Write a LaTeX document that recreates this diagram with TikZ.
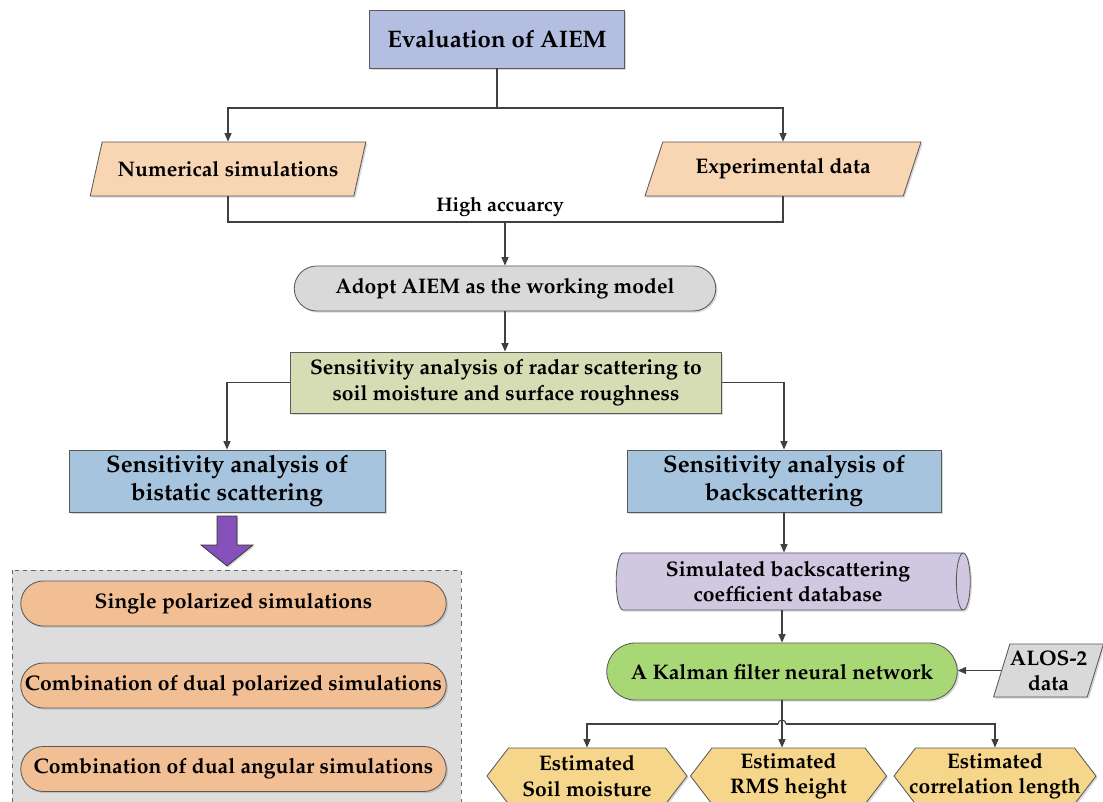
\documentclass[tikz,border=0pt]{standalone}
\usepackage[T1]{fontenc}
\usepackage{mathpazo}
\usetikzlibrary{arrows.meta,shapes.geometric,shapes.misc,shapes.symbols,shadows,patterns}

\definecolor{evalblue}{RGB}{180,190,225}
\definecolor{peach}{RGB}{248,214,180}
\definecolor{lightgray}{RGB}{217,217,217}
\definecolor{olive}{RGB}{214,220,180}
\definecolor{steel}{RGB}{166,196,222}
\definecolor{panel}{RGB}{221,221,221}
\definecolor{orangepill}{RGB}{242,190,148}
\definecolor{lilac}{RGB}{208,200,224}
\definecolor{leaf}{RGB}{168,216,118}
\definecolor{sand}{RGB}{245,214,138}
\definecolor{bigarrow}{RGB}{140,78,200}
\definecolor{linegray}{RGB}{64,64,64}

\tikzset{
  base/.style={draw=black!65, line width=0.6pt, align=center, inner sep=2pt,
    font=\fontsize{15}{18}\selectfont\bfseries,
    drop shadow={shadow xshift=1.2pt, shadow yshift=-1.2pt, opacity=0.3}},
  bigtext/.style={font=\fontsize{17}{20.5}\selectfont\bfseries},
  box/.style={base, rectangle},
  pill/.style={base, rounded rectangle},
  slant/.style={base, trapezium, trapezium left angle=63, trapezium right angle=117,
    trapezium stretches=true},
  hexa/.style={base, signal, signal to=west and east, signal pointer angle=105},
  drum/.style={base, cylinder, aspect=0.3},
  conn/.style={draw=linegray, line width=0.8pt},
  arr/.style={conn, -{Triangle[length=6pt, width=5pt]}},
}

\begin{document}
\begin{tikzpicture}[x=0.025cm, y=-0.025cm]
  \useasboundingbox (0,0) rectangle (1103,801);

  % top part
  \node[box, fill=evalblue, minimum width=6.375cm, minimum height=1.45cm,
    font=\fontsize{17}{20}\selectfont\bfseries] (eval) at (497,39) {Evaluation of AIEM};
  \node[slant, fill=peach, minimum width=6.9cm, minimum height=1.35cm] (num) at (228,169) {Numerical simulations};
  \node[slant, fill=peach, minimum width=6.9cm, minimum height=1.35cm] (exp) at (783,169) {Experimental data};
  \node[pill, fill=lightgray, minimum width=10.675cm, minimum height=1.125cm] (adopt) at (505,288.5) {Adopt AIEM as the working model};
  \node[box, fill=olive, minimum width=10.775cm, minimum height=1.525cm] (sens) at (506,382.5)
    {Sensitivity analysis of radar scattering to\\soil moisture and surface roughness};
  \node[box, bigtext, fill=steel, minimum width=7.9cm, minimum height=1.55cm] (bist) at (227,481)
    {Sensitivity analysis of\\bistatic scattering};
  \node[box, bigtext, fill=steel, minimum width=7.85cm, minimum height=1.55cm] (back) at (784,481)
    {Sensitivity analysis of\\backscattering};

  \coordinate (split) at (497,108);
  \coordinate (merge) at (505,222);
  \draw[conn] (eval.south) -- (split);
  \draw[arr] (split) -| (num.north);
  \draw[arr] (split) -| (exp.north);
  \draw[conn] (num.south) |- (merge) -| (exp.south);
  \node[font=\fontsize{14}{17}\selectfont\bfseries, above] (acc) at (500,222) {High accuarcy};
  \draw[arr] (merge) -- (adopt.north);
  \draw[arr] (adopt.south) -- (adopt.south |- sens.north);
  \draw[arr] (sens.west) -| (bist.north);
  \draw[arr] (sens.east) -| (back.north);

  % left branch
  \draw[black!80, line width=0.5pt, preaction={fill=bigarrow, drop shadow={shadow xshift=1pt, shadow yshift=-1pt, opacity=0.3}},
    pattern=crosshatch dots, pattern color=black!60]
    (217,516) -- (237,516) -- (237,545) -- (253,545) -- (227,566) -- (201,545) -- (217,545) -- cycle;
  \draw[black!60, dashed, line width=0.6pt, fill=panel] (12,570) rectangle (461,812);
  \node[pill, fill=orangepill, minimum width=10.775cm, minimum height=1.125cm] (single) at (233.5,603.5) {Single polarized simulations};
  \node[pill, fill=orangepill, minimum width=10.775cm, minimum height=1.125cm] (dualpol) at (233.5,685.5) {Combination of dual polarized simulations};
  \node[pill, fill=orangepill, minimum width=10.775cm, minimum height=1.125cm] (dualang) at (233.5,769) {Combination of dual angular simulations};

  % right branch
  \node[drum, fill=lilac, minimum height=8.85cm, minimum width=1.425cm] (db) at (788,581.5)
    {Simulated backscattering\\coefficient database};
  \node[pill, fill=leaf, minimum width=8.9cm, minimum height=1.425cm] (kal) at (782,671.5) {A Kalman filter neural network};
  \node[slant, fill=lightgray, trapezium left angle=68, trapezium right angle=112,
    minimum width=2.5cm, minimum height=1.325cm, inner sep=0pt] (alos) at (1048.5,670.5) {ALOS-2\\data};
  \node[hexa, fill=sand, minimum width=5cm, minimum height=1.4cm] (soil) at (587,776) {Estimated\\Soil moisture};
  \node[hexa, fill=sand, minimum width=4.9cm, minimum height=1.4cm] (rms) at (788.5,776) {Estimated\\RMS height};
  \node[hexa, fill=sand, minimum width=4.9cm, minimum height=1.4cm, inner xsep=-4.5pt] (corr) at (995,776) {Estimated\\correlation length};

  \draw[arr] (back.south) -- (back.south |- db.north);
  \draw[arr] (kal.north |- db.south) -- (kal.north);
  \draw[arr] (alos.west) -- (alos.west -| kal.east);
  \coordinate (bus) at (782,724);
  \draw[arr] (kal.south) -- (kal.south |- rms.north);
  \draw[arr] ([xshift=-0.1cm]bus) -| (soil.north);
  \draw[arr] ([xshift=0.1cm]bus) -| (corr.north);
  \draw[conn] ([xshift=-0.1cm]bus) arc[start angle=180, end angle=0, radius=0.1cm];
\end{tikzpicture}
\end{document}
